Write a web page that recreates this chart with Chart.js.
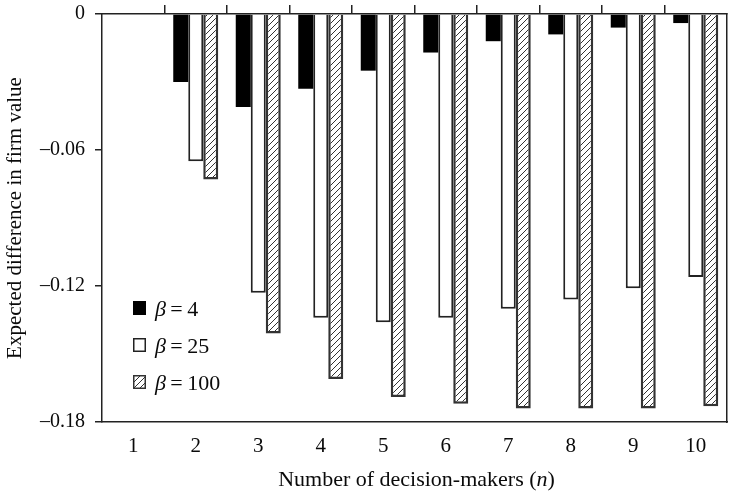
<!DOCTYPE html>
<html><head><meta charset="utf-8">
<script src="https://cdn.jsdelivr.net/npm/chart.js@4.4.1/dist/chart.umd.min.js"></script>
<style>html,body{margin:0;padding:0;background:#fff}</style>
</head><body>
<canvas id="c" width="737" height="492"></canvas>
<script>
const categories = ['1','2','3','4','5','6','7','8','9','10'];
const beta4   = [0,-0.030,-0.041,-0.033,-0.025,-0.017,-0.012,-0.009,-0.006,-0.004];
const beta25  = [0,-0.065,-0.123,-0.134,-0.136,-0.134,-0.130,-0.126,-0.121,-0.116];
const beta100 = [0,-0.073,-0.141,-0.161,-0.169,-0.172,-0.174,-0.174,-0.174,-0.173];
const seriesLabels = ['β\u2009=\u20094','β\u2009=\u200925','β\u2009=\u2009100'];
const yTickValues = [0,-0.06,-0.12,-0.18];
const yTickLabels = ['0','–0.06','–0.12','–0.18'];
const xTitleParts = ['Number of decision-makers (', 'n', ')'];
const yTitle = 'Expected difference in firm value';

const FONT = "'Liberation Serif', 'DejaVu Serif', serif";
const INK = '#222';
const TEXT = '#0a0a0a';

function hatch(){
  const s = 6, c = document.createElement('canvas');
  c.width = s; c.height = s;
  const g = c.getContext('2d');
  g.fillStyle = '#fff'; g.fillRect(0,0,s,s);
  g.strokeStyle = '#333'; g.lineWidth = 1;
  g.beginPath();
  g.moveTo(0,s); g.lineTo(s,0);
  g.moveTo(-1,1); g.lineTo(1,-1);
  g.moveTo(s-1,s+1); g.lineTo(s+1,s-1);
  g.stroke();
  return document.getElementById('c').getContext('2d').createPattern(c,'repeat');
}

const insideLegend = {
  id:'insideLegend',
  afterDraw(chart){
    const ctx = chart.ctx, a = chart.chartArea;
    chart.data.datasets.forEach((ds,i)=>{
      const x = a.left + 31, y = a.top + 287 + i*37;
      ctx.save();
      ctx.fillStyle = ds.backgroundColor;
      ctx.fillRect(x, y, 13, 14);
      ctx.strokeStyle = ds.borderColor; ctx.lineWidth = 1.5;
      ctx.strokeRect(x+0.75, y+0.75, 11.5, 12.5);
      const label = ds.label;
      ctx.fillStyle = TEXT;
      ctx.textBaseline = 'alphabetic';
      ctx.font = "italic 22px " + FONT;
      const tx = x + 22, ty = y + 15;
      ctx.fillText(label.charAt(0), tx, ty);
      const w = ctx.measureText(label.charAt(0)).width;
      ctx.font = "22px " + FONT;
      ctx.fillText(label.slice(1), tx + w, ty);
      ctx.restore();
    });
  }
};

const xTitlePlugin = {
  id:'xTitlePlugin',
  afterDraw(chart){
    const ctx = chart.ctx, a = chart.chartArea;
    ctx.save();
    ctx.fillStyle = TEXT;
    ctx.textBaseline = 'alphabetic';
    const fonts = ["22px " + FONT, "italic 22px " + FONT, "22px " + FONT];
    let total = 0; const ws = [];
    xTitleParts.forEach((t,i)=>{ ctx.font = fonts[i]; const w = ctx.measureText(t).width; ws.push(w); total += w; });
    let x = (a.left + a.right)/2 - total/2 + 2;
    const y = chart.height - 6;
    xTitleParts.forEach((t,i)=>{ ctx.font = fonts[i]; ctx.fillText(t, x, y); x += ws[i]; });
    ctx.restore();
  }
};

const hatchFill = hatch();
new Chart(document.getElementById('c'), {
  type:'bar',
  data:{
    labels: categories,
    datasets:[
      {label:seriesLabels[0], data:beta4, backgroundColor:'#000', borderColor:'#000', borderWidth:0},
      {label:seriesLabels[1], data:beta25, backgroundColor:'#fff', borderColor:INK, borderWidth:2},
      {label:seriesLabels[2], data:beta100, backgroundColor:hatchFill, borderColor:'#333', borderWidth:2.5}
    ]
  },
  options:{
    responsive:false, animation:false,
    categoryPercentage:0.72, barPercentage:1.0,
    layout:{padding:{left:0,right:10,top:0,bottom:0}},
    plugins:{legend:{display:false}, tooltip:{enabled:false}},
    scales:{
      x:{
        position:'bottom', offset:true,
        grid:{display:false, drawTicks:false},
        border:{display:true, color:INK, width:1.5},
        ticks:{color:TEXT, padding:12, font:{family:FONT, size:21}},
        title:{display:false},
        afterFit(s){ s.height = 70; s.paddingLeft = 0; s.paddingRight = 0; }
      },
      x2:{
        position:'top', type:'category', labels:categories, offset:true,
        grid:{offset:true, drawOnChartArea:false, drawTicks:true, tickLength:9, lineWidth:1.5,
              color:(c)=> (c.index===undefined || c.index===0) ? 'rgba(0,0,0,0)' : INK},
        border:{display:true, color:INK, width:1.5},
        ticks:{display:false},
        afterFit(s){ s.height = 14; }
      },
      y:{
        min:-0.18, max:0,
        afterBuildTicks(s){ s.ticks = yTickValues.map(v=>({value:v})); },
        grid:{drawOnChartArea:false, drawTicks:true, tickLength:7, color:INK, lineWidth:1.5},
        border:{display:true, color:INK, width:1.5},
        ticks:{color:TEXT, padding:10, font:{family:FONT, size:20},
               callback:(v)=>{ const i = yTickValues.findIndex(t=>Math.abs(t-v)<1e-9); return i>=0 ? yTickLabels[i] : ''; }},
        title:{display:true, text:yTitle, color:TEXT, padding:{top:3,bottom:0}, font:{family:FONT, size:21}},
        afterFit(s){ s.width = 102; s.paddingTop = 0; s.paddingBottom = 0; }
      },
      y2:{
        position:'right', min:-0.18, max:0,
        grid:{display:false, drawTicks:false},
        border:{display:true, color:INK, width:1.5},
        ticks:{display:false},
        afterFit(s){ s.width = 0; s.paddingTop = 0; s.paddingBottom = 0; }
      }
    }
  },
  plugins:[insideLegend, xTitlePlugin]
});
</script>
</body></html>
